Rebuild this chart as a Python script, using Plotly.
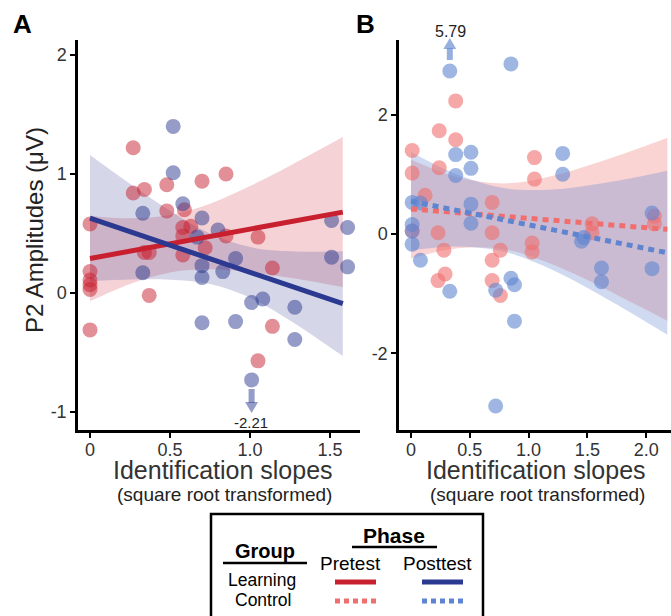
import plotly.graph_objects as go

# ---------------- data ----------------
# Panel A : Learning group
a_pre_x = [0, 0, 0, 0, 0, 0, 0.27, 0.27, 0.34, 0.48, 0.70, 0.85, 0.48, 0.59, 0.58, 0.63,
           0.85, 1.05, 0.34, 0.37, 0.58, 0.72, 0.37, 1.14, 1.14, 1.05, 0.58]
a_pre_y = [0.58, 0.18, 0.11, 0.07, 0.03, -0.31, 1.22, 0.84, 0.87, 0.91, 0.94, 1.00, 0.69, 0.70,
           0.55, 0.56, 0.48, 0.47, 0.34, 0.34, 0.32, 0.38, -0.02, 0.21, -0.28, -0.57, 0.48]
a_post_x = [0.52, 0.52, 0.33, 0.58, 0.70, 0.80, 0.67, 1.51, 1.61, 0.91, 1.51, 0.33, 0.70,
            0.70, 0.83, 1.61, 0.70, 0.91, 1.01, 1.08, 1.28, 1.28, 1.01]
a_post_y = [1.40, 1.01, 0.67, 0.75, 0.63, 0.53, 0.47, 0.61, 0.55, 0.29, 0.30, 0.17, 0.23,
            0.13, 0.18, 0.22, -0.25, -0.24, -0.08, -0.05, -0.12, -0.39, -0.73]
a_fit_x = [0, 0.25, 0.5, 0.75, 1.0, 1.25, 1.58]
a_pre_fit = [0.29, 0.352, 0.414, 0.475, 0.537, 0.599, 0.68]
a_pre_lo = [-0.07, 0.076, 0.173, 0.199, 0.175, 0.128, 0.05]
a_pre_hi = [0.65, 0.628, 0.655, 0.751, 0.899, 1.07, 1.31]
a_post_fit = [0.63, 0.516, 0.402, 0.288, 0.174, 0.06, -0.09]
a_post_lo = [0.10, 0.114, 0.112, 0.076, -0.038, -0.23, -0.53]
a_post_hi = [1.16, 0.918, 0.692, 0.500, 0.386, 0.35, 0.35]
a_outlier_x = 1.01
a_outlier_label = "-2.21"

# Panel B : Control group
b_pre_x = [0.38, 0.24, 0.38, 0.01, 0.01, 0.24, 0.12, 0.69, 0.23, 0.69, 0.01, 1.05, 1.05,
           1.03, 1.03, 1.54, 1.54, 2.07, 2.07, 0.28, 0.76, 0.69, 0.29, 0.23, 0.69, 0.76]
b_pre_y = [2.23, 1.73, 1.58, 1.40, 1.02, 1.11, 0.65, 0.53, 0.02, 0.02, 0.05, 1.28, 0.92,
           -0.15, -0.30, 0.17, 0.02, 0.30, 0.17, -0.27, -0.27, -0.44, -0.67, -0.78, -0.78, -1.03]
b_post_x = [0.33, 0.85, 0.38, 0.51, 0.51, 0.38, 0.01, 0.08, 0.51, 0.51, 0.01, 0.01, 1.29, 1.29,
            2.05, 1.45, 1.47, 1.62, 1.62, 2.05, 0.01, 0.08, 0.33, 0.85, 0.88, 0.72, 0.88, 0.72]
b_post_y = [2.73, 2.85, 1.33, 1.37, 1.10, 0.98, 0.53, 0.52, 0.50, 0.18, 0.16, 0.05, 1.35, 1.00,
            0.35, -0.12, -0.06, -0.57, -0.80, -0.58, -0.17, -0.44, -0.96, -0.74, -0.85, -0.94,
            -1.46, -2.88]
b_fit_x = [0, 0.4, 0.8, 1.2, 1.6, 2.0, 2.18]
b_pre_fit = [0.42, 0.357, 0.294, 0.232, 0.169, 0.106, 0.078]
b_pre_lo = [-0.41, -0.237, -0.259, -0.508, -0.869, -1.27, -1.457]
b_pre_hi = [1.25, 0.951, 0.847, 0.972, 1.207, 1.48, 1.613]
b_post_fit = [0.55, 0.391, 0.232, 0.074, -0.085, -0.244, -0.315]
b_post_lo = [-0.275, -0.21, -0.302, -0.598, -1.013, -1.474, -1.688]
b_post_hi = [1.375, 0.992, 0.766, 0.746, 0.843, 0.986, 1.058]
b_outlier_x = 0.33
b_outlier_label = "5.79"

a_xticks = [0, 0.5, 1.0, 1.5]
a_xtext = ["0", "0.5", "1.0", "1.5"]
a_yticks = [-1, 0, 1, 2]
a_ytext = ["-1", "0", "1", "2"]
b_xticks = [0, 0.5, 1.0, 1.5, 2.0]
b_xtext = ["0", "0.5", "1.0", "1.5", "2.0"]
b_yticks = [-2, 0, 2]
b_ytext = ["-2", "0", "2"]

# ---------------- styles / layout geometry (pixels) ----------------
W, H = 671, 616
FONT = "Liberation Sans, Arial, sans-serif"
A_RED = "rgb(200,32,47)"
A_BLUE = "rgb(43,57,144)"
B_RED = "rgb(240,110,110)"
B_BLUE = "rgb(95,133,208)"

A_XPIX = (78, 360)
B_XPIX = (399, 671)
Y_PIX = (430, 40)
A_XR = (-0.075, 1.6875)
A_YR = (-1.151, 2.126)
B_XR = (-0.102, 2.211)
B_YR = (-3.283, 3.25)


def rgba(c, a):
    return c.replace("rgb(", "rgba(").replace(")", ",%s)" % a)


def PX(x):
    return x / W


def PY(y):
    return 1 - y / H


def data_to_px(v, rng, pix):
    return pix[0] + (v - rng[0]) / (rng[1] - rng[0]) * (pix[1] - pix[0])


fig = go.Figure()


def band(x, lo, hi, color, alpha, xa, ya):
    fig.add_trace(go.Scatter(x=x, y=lo, mode="lines", line=dict(width=0, shape="spline"),
                             xaxis=xa, yaxis=ya, hoverinfo="skip", showlegend=False))
    fig.add_trace(go.Scatter(x=x, y=hi, mode="lines", line=dict(width=0, shape="spline"),
                             fill="tonexty", fillcolor=rgba(color, alpha),
                             xaxis=xa, yaxis=ya, hoverinfo="skip", showlegend=False))


def pts(x, y, color, alpha, xa, ya):
    fig.add_trace(go.Scatter(x=x, y=y, mode="markers",
                             marker=dict(size=15, color=rgba(color, alpha), line=dict(width=0)),
                             xaxis=xa, yaxis=ya, showlegend=False))


def fitline(x, y, color, dash, xa, ya):
    fig.add_trace(go.Scatter(x=x, y=y, mode="lines", line=dict(color=color, width=5, dash=dash),
                             xaxis=xa, yaxis=ya, showlegend=False))


# Panel A
band(a_fit_x, a_pre_lo, a_pre_hi, A_RED, 0.2, "x", "y")
band(a_fit_x, a_post_lo, a_post_hi, A_BLUE, 0.2, "x", "y")
pts(a_pre_x, a_pre_y, A_RED, 0.5, "x", "y")
pts(a_post_x, a_post_y, A_BLUE, 0.5, "x", "y")
fitline(a_fit_x, a_pre_fit, A_RED, "solid", "x", "y")
fitline(a_fit_x, a_post_fit, A_BLUE, "solid", "x", "y")

# Panel B
band(b_fit_x, b_pre_lo, b_pre_hi, B_RED, 0.3, "x2", "y2")
band(b_fit_x, b_post_lo, b_post_hi, B_BLUE, 0.3, "x2", "y2")
pts(b_pre_x, b_pre_y, B_RED, 0.6, "x2", "y2")
pts(b_post_x, b_post_y, B_BLUE, 0.6, "x2", "y2")
fitline(b_fit_x, b_pre_fit, B_RED, "6px,5px", "x2", "y2")
fitline(b_fit_x, b_post_fit, B_BLUE, "6px,5px", "x2", "y2")

axis_common = dict(showline=True, linecolor="black", linewidth=2.5, ticks="outside",
                   ticklen=5, tickwidth=2, tickcolor="black", showgrid=False, zeroline=False,
                   tickfont=dict(family=FONT, size=18, color="#333333"), fixedrange=True)

ydom = [PY(Y_PIX[0]), PY(Y_PIX[1])]
fig.update_layout(
    width=W, height=H, margin=dict(l=0, r=0, t=0, b=0),
    paper_bgcolor="white", plot_bgcolor="white", showlegend=False,
    font=dict(family=FONT),
    xaxis=dict(domain=[PX(A_XPIX[0]), PX(A_XPIX[1])], range=list(A_XR), anchor="y",
               tickvals=a_xticks, ticktext=a_xtext, ticklabelstandoff=-3, **axis_common),
    yaxis=dict(domain=ydom, range=list(A_YR), anchor="x",
               tickvals=a_yticks, ticktext=a_ytext, **axis_common),
    xaxis2=dict(domain=[PX(B_XPIX[0]), PX(B_XPIX[1])], range=list(B_XR), anchor="y2",
                tickvals=b_xticks, ticktext=b_xtext, ticklabelstandoff=-3, **axis_common),
    yaxis2=dict(domain=ydom, range=list(B_YR), anchor="x2",
                tickvals=b_yticks, ticktext=b_ytext, **axis_common),
)

ann = []


def ptext(x, y, text, size, color="#222222", bold=False, angle=0, xanchor="center"):
    t = "<b>%s</b>" % text if bold else text
    ann.append(dict(x=PX(x), y=PY(y), xref="paper", yref="paper", text=t, showarrow=False,
                    xanchor=xanchor, yanchor="middle", textangle=angle,
                    font=dict(family=FONT, size=size, color=color)))


# panel letters
ptext(22, 24, "A", 26, "black", bold=True)
ptext(365, 24, "B", 26, "black", bold=True)
# axis titles
ptext(34, 230, "P2 Amplitudes (μV)", 24, "#222222", angle=-90)
ptext(223, 470, "Identification slopes", 25, "#333333")
ptext(224, 494, "(square root transformed)", 19, "#222222")
ptext(536, 470, "Identification slopes", 25, "#333333")
ptext(537, 494, "(square root transformed)", 19, "#222222")

# outlier labels
a_ox = data_to_px(a_outlier_x, A_XR, A_XPIX)
b_ox = data_to_px(b_outlier_x, B_XR, B_XPIX)
ptext(a_ox - 1, 422, a_outlier_label, 15, "#222222")
ptext(b_ox + 1, 31, b_outlier_label, 16, "#222222")

# legend box texts
ptext(394, 535, "Phase", 21, "black", bold=True)
ptext(265, 551, "Group", 20, "black", bold=True)
ptext(350, 563, "Pretest", 19, "black")
ptext(437, 563, "Posttest", 19, "black")
ptext(262, 580, "Learning", 17.5, "black")
ptext(263, 600, "Control", 17.5, "black")
fig.update_layout(annotations=ann)

A_ARROW = rgba(A_BLUE, 0.5)
B_ARROW = rgba(B_BLUE, 0.65)


def pline(x0, y0, x1, y1, color, width, dash="solid"):
    return dict(type="line", xref="paper", yref="paper", x0=PX(x0), x1=PX(x1), y0=PY(y0),
                y1=PY(y1), line=dict(color=color, width=width, dash=dash))


def ppath(points, color):
    d = "M " + " L ".join("%f,%f" % (PX(x), PY(y)) for x, y in points) + " Z"
    return dict(type="path", xref="paper", yref="paper", path=d, fillcolor=color,
                line=dict(width=0))


shapes = [
    dict(type="rect", xref="paper", yref="paper", x0=PX(211), x1=PX(483), y0=PY(640), y1=PY(514),
         line=dict(color="black", width=2.5)),
    pline(352, 547, 437, 547, "black", 2.5),
    pline(223, 563, 307, 563, "black", 2.5),
    pline(335, 582, 376, 582, A_RED, 5),
    pline(422, 582, 463, 582, A_BLUE, 5),
    pline(335, 601, 376, 601, B_RED, 5, "5px,4px"),
    pline(422, 601, 463, 601, B_BLUE, 5, "5px,4px"),
    # outlier arrows
    pline(a_ox, 389, a_ox, 403, A_ARROW, 6),
    ppath([(a_ox - 6.5, 402), (a_ox + 6.5, 402), (a_ox, 413)], A_ARROW),
    pline(b_ox, 60, b_ox, 48, B_ARROW, 6),
    ppath([(b_ox - 6.5, 49), (b_ox + 6.5, 49), (b_ox, 38)], B_ARROW),
]
fig.update_layout(shapes=shapes)

fig.write_html("out.html", config={"displayModeBar": False},
               post_script="document.body.style.margin='0';document.body.style.overflow='hidden';")
